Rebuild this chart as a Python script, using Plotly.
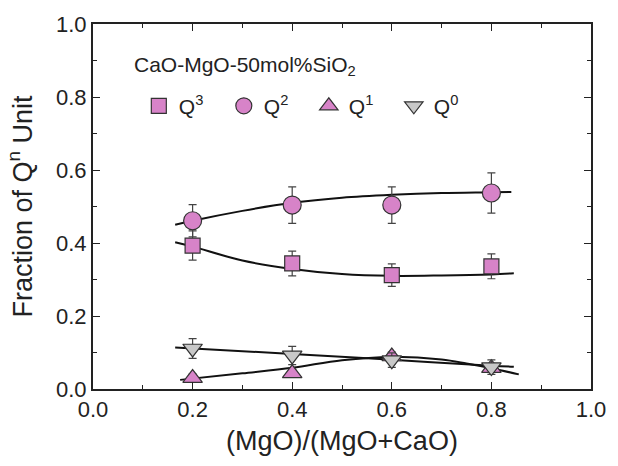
import plotly.graph_objects as go

# Composition (MgO)/(MgO+CaO)
x_ratio = [0.2, 0.4, 0.6, 0.8]

# Fractions of Q^n units with uncertainties
q3 = [0.393, 0.344, 0.312, 0.336]
q3_err = [0.040, 0.034, 0.031, 0.034]
q2 = [0.461, 0.504, 0.504, 0.537]
q2_err = [0.044, 0.050, 0.050, 0.055]
q1 = [0.030, 0.043, 0.089, 0.057]
q1_err = [0.011, 0.011, 0.012, 0.011]
q0 = [0.111, 0.092, 0.079, 0.060]
q0_err = [0.027, 0.025, 0.020, 0.020]

# Fitted trend curves
fit_q2_x = [0.165, 0.2, 0.3, 0.4, 0.5, 0.6, 0.7, 0.8, 0.84]
fit_q2_y = [0.450, 0.461, 0.488, 0.510, 0.524, 0.532, 0.537, 0.539, 0.540]
fit_q3_x = [0.165, 0.2, 0.3, 0.4, 0.5, 0.6, 0.7, 0.8, 0.845]
fit_q3_y = [0.402, 0.390, 0.352, 0.329, 0.315, 0.310, 0.311, 0.314, 0.317]
fit_q0_x = [0.165, 0.4, 0.6, 0.8, 0.845]
fit_q0_y = [0.114, 0.096, 0.080, 0.064, 0.061]
fit_q1_x = [0.175, 0.3, 0.4, 0.5, 0.6, 0.7, 0.75, 0.8, 0.855]
fit_q1_y = [0.025, 0.043, 0.058, 0.079, 0.088, 0.081, 0.070, 0.057, 0.040]

system_label = "CaO-MgO-50mol%SiO<sub>2</sub>"

PINK = "#D783C8"
GRAY = "#C8C8C8"
EDGE = "#333333"
INK = "#222222"
FONT = "Liberation Sans, Arial, sans-serif"

fig = go.Figure()

for fx, fy in [(fit_q2_x, fit_q2_y), (fit_q3_x, fit_q3_y),
               (fit_q0_x, fit_q0_y), (fit_q1_x, fit_q1_y)]:
    fig.add_trace(go.Scatter(
        x=fx, y=fy, mode="lines", showlegend=False, hoverinfo="skip",
        line=dict(color="#111111", width=2, shape="spline", smoothing=1.0),
    ))

series = [
    ("Q<sup>3</sup>", q3, q3_err, "square", 15, PINK),
    ("Q<sup>2</sup>", q2, q2_err, "circle", 18, PINK),
    ("Q<sup>1</sup>", q1, q1_err, "triangle-up", 17, PINK),
    ("Q<sup>0</sup>", q0, q0_err, "triangle-down", 17, GRAY),
]
for name, ys, errs, sym, size, col in series:
    fig.add_trace(go.Scatter(
        x=x_ratio, y=ys, mode="markers", name=name,
        marker=dict(symbol=sym, size=size, color=col,
                    line=dict(color=EDGE, width=1.2)),
        error_y=dict(type="data", array=errs, visible=True,
                     color="#444444", thickness=1.2, width=4),
    ))

axis_common = dict(
    showline=True, linewidth=2, linecolor=INK, mirror="ticks",
    ticks="inside", ticklen=7, tickwidth=1.3, tickcolor=INK,
    showgrid=False, zeroline=False,
    tickfont=dict(family=FONT, size=22, color=INK),
    minor=dict(dtick=0.1, ticks="inside", ticklen=4, tickwidth=1,
               tickcolor=INK, showgrid=False),
)

fig.update_xaxes(range=[0.0, 1.0], dtick=0.2, tickformat=".1f",
                 title=dict(text="(MgO)/(MgO+CaO)", standoff=10,
                            font=dict(family=FONT, size=27, color=INK)),
                 **axis_common)
fig.update_yaxes(range=[0.0, 1.0], dtick=0.2, tickformat=".1f",
                 title=dict(text="Fraction of Q<sup>n</sup> Unit", standoff=16,
                            font=dict(family=FONT, size=27, color=INK)),
                 **axis_common)

fig.add_annotation(
    text=system_label, xref="paper", yref="paper", x=0.078, y=0.885,
    xanchor="left", yanchor="middle", showarrow=False,
    font=dict(family=FONT, size=21, color=INK),
)

fig.update_layout(
    width=618, height=466,
    margin=dict(l=93, r=22, t=20, b=77),
    paper_bgcolor="white", plot_bgcolor="white",
    font=dict(family=FONT, color=INK),
    legend=dict(
        orientation="h", x=0.092, y=0.775, xanchor="left", yanchor="middle",
        bgcolor="rgba(0,0,0,0)", font=dict(family=FONT, size=21, color=INK),
        entrywidth=40, entrywidthmode="pixels", itemsizing="trace",
        tracegroupgap=0,
    ),
)

fig.write_html("out.html")
